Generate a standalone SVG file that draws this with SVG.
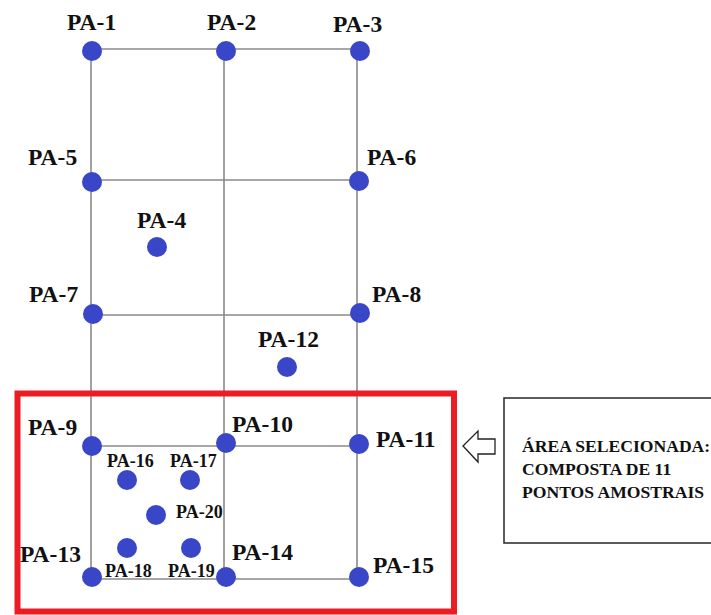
<svg xmlns="http://www.w3.org/2000/svg" width="711" height="615" viewBox="0 0 711 615">
  <style>
    .grid { stroke: #8a8a8a; stroke-width: 1.6; fill: none; }
    .pt { fill: #3a46c8; }
    text { font-family: 'Liberation Serif', 'DejaVu Serif', serif; font-weight: bold; fill: #111; }
    .lbl { font-size: 23.5px; }
    .lbl-s { font-size: 18px; }
    .note { font-size: 17.6px; }
  </style>
  <rect width="711" height="615" fill="#ffffff"/>

  <!-- sampling grid -->
  <g id="connectors">
    <line class="grid" x1="91" y1="50" x2="91" y2="579"/>
    <line class="grid" x1="224" y1="50" x2="224" y2="579"/>
    <line class="grid" x1="357" y1="50" x2="357" y2="579"/>
    <line class="grid" x1="91" y1="49" x2="357" y2="49"/>
    <line class="grid" x1="91" y1="180" x2="357" y2="180"/>
    <line class="grid" x1="91" y1="315" x2="357" y2="315"/>
    <line class="grid" x1="91" y1="446" x2="357" y2="446"/>
    <line class="grid" x1="91" y1="579" x2="357" y2="579"/>
  </g>

  <!-- selected area frame -->
  <rect id="selected-area" x="17.5" y="393.5" width="436.5" height="218" fill="none" stroke="#ec1c24" stroke-width="6"/>

  <!-- sample points -->
  <g id="pa-1"><circle class="pt" cx="92" cy="51" r="10"/><text class="lbl" x="67" y="30">PA-1</text></g>
  <g id="pa-2"><circle class="pt" cx="226" cy="51" r="10"/><text class="lbl" x="207" y="30">PA-2</text></g>
  <g id="pa-3"><circle class="pt" cx="360" cy="51" r="10"/><text class="lbl" x="333" y="32">PA-3</text></g>
  <g id="pa-5"><circle class="pt" cx="92" cy="182" r="10"/><text class="lbl" x="28" y="165">PA-5</text></g>
  <g id="pa-6"><circle class="pt" cx="359" cy="181" r="10"/><text class="lbl" x="367" y="165">PA-6</text></g>
  <g id="pa-4"><circle class="pt" cx="157" cy="247" r="10"/><text class="lbl" x="137" y="228">PA-4</text></g>
  <g id="pa-7"><circle class="pt" cx="93" cy="314" r="10"/><text class="lbl" x="29" y="302">PA-7</text></g>
  <g id="pa-8"><circle class="pt" cx="360" cy="313" r="10"/><text class="lbl" x="372" y="302">PA-8</text></g>
  <g id="pa-12"><circle class="pt" cx="287" cy="367" r="10"/><text class="lbl" x="258" y="347">PA-12</text></g>
  <g id="pa-9"><circle class="pt" cx="92" cy="446" r="10"/><text class="lbl" x="28" y="435">PA-9</text></g>
  <g id="pa-10"><circle class="pt" cx="226" cy="443" r="10"/><text class="lbl" x="232" y="432">PA-10</text></g>
  <g id="pa-11"><circle class="pt" cx="359" cy="444" r="10"/><text class="lbl" x="376" y="447">PA-11</text></g>
  <g id="pa-16"><circle class="pt" cx="127" cy="480" r="10"/><text class="lbl-s" x="107" y="467">PA-16</text></g>
  <g id="pa-17"><circle class="pt" cx="190" cy="480" r="10"/><text class="lbl-s" x="170" y="467">PA-17</text></g>
  <g id="pa-20"><circle class="pt" cx="156" cy="515" r="10"/><text class="lbl-s" x="176" y="518">PA-20</text></g>
  <g id="pa-18"><circle class="pt" cx="127" cy="548" r="10"/><text class="lbl-s" x="105" y="577">PA-18</text></g>
  <g id="pa-19"><circle class="pt" cx="191" cy="548" r="10"/><text class="lbl-s" x="168" y="577">PA-19</text></g>
  <g id="pa-13"><circle class="pt" cx="92" cy="577" r="10"/><text class="lbl" x="20" y="562">PA-13</text></g>
  <g id="pa-14"><circle class="pt" cx="226" cy="577" r="10"/><text class="lbl" x="232" y="560">PA-14</text></g>
  <g id="pa-15"><circle class="pt" cx="359" cy="577" r="10"/><text class="lbl" x="373" y="573">PA-15</text></g>

  <!-- pointer arrow and caption -->
  <g id="pointer">
    <polygon points="463,446 478,431 478,439 495,439 495,454 478,454 478,462" fill="#ffffff" stroke="#222" stroke-width="1.3" stroke-linejoin="miter"/>
  </g>
  <g id="caption">
    <rect x="504" y="398" width="220" height="145" fill="#ffffff" stroke="#333" stroke-width="1.6"/>
    <text class="note" x="522" y="452">ÁREA SELECIONADA:</text>
    <text class="note" x="522" y="475">COMPOSTA DE 11</text>
    <text class="note" x="522" y="498">PONTOS AMOSTRAIS</text>
  </g>
</svg>
